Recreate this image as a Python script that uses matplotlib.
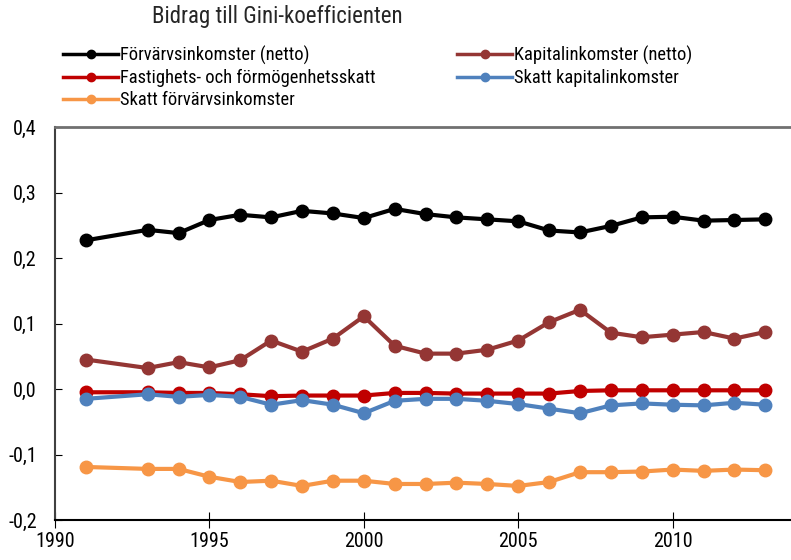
import matplotlib
matplotlib.use("Agg")
import matplotlib.pyplot as plt
from matplotlib.lines import Line2D

plt.rcParams['font.family'] = ['Roboto Condensed', 'DejaVu Sans']

years = [1991, 1993, 1994, 1995, 1996, 1997, 1998, 1999, 2000, 2001, 2002,
         2003, 2004, 2005, 2006, 2007, 2008, 2009, 2010, 2011, 2012, 2013]

forvarv = [0.227, 0.243, 0.238, 0.258, 0.266, 0.262, 0.272, 0.268, 0.261, 0.275, 0.267,
           0.262, 0.259, 0.256, 0.242, 0.239, 0.249, 0.262, 0.263, 0.257, 0.258, 0.259]
kapital = [0.045, 0.032, 0.041, 0.033, 0.044, 0.074, 0.057, 0.077, 0.111, 0.066, 0.054,
           0.054, 0.060, 0.074, 0.102, 0.121, 0.086, 0.079, 0.083, 0.087, 0.077, 0.087]
fastighet = [-0.005, -0.005, -0.006, -0.006, -0.008, -0.011, -0.010, -0.010, -0.010, -0.006, -0.006,
             -0.007, -0.007, -0.007, -0.007, -0.003, -0.002, -0.002, -0.002, -0.002, -0.002, -0.002]
skatt_kap = [-0.015, -0.008, -0.012, -0.009, -0.012, -0.024, -0.017, -0.024, -0.037, -0.018, -0.015,
             -0.015, -0.018, -0.023, -0.030, -0.037, -0.025, -0.022, -0.024, -0.025, -0.021, -0.024]
skatt_forv = [-0.119, -0.122, -0.122, -0.134, -0.142, -0.140, -0.148, -0.140, -0.140, -0.145, -0.145,
              -0.143, -0.145, -0.148, -0.142, -0.127, -0.127, -0.126, -0.123, -0.125, -0.123, -0.124]

labels = ["Förvärvsinkomster (netto)", "Kapitalinkomster (netto)",
          "Fastighets- och förmögenhetsskatt", "Skatt kapitalinkomster",
          "Skatt förvärvsinkomster"]
colors = ["#000000", "#943634", "#C00000", "#4F81BD", "#F79646"]
series = [forvarv, kapital, fastighet, skatt_kap, skatt_forv]

yticks = [-0.2, -0.1, 0.0, 0.1, 0.2, 0.3, 0.4]
ytick_labels = ["-0,2", "-0,1", "0,0", "0,1", "0,2", "0,3", "0,4"]
xticks = [1990, 1995, 2000, 2005, 2010]

fig = plt.figure(figsize=(7.91, 5.6), dpi=100)
ax = fig.add_axes([55/791, 40/560, 735/791, 393/560])

for vals, col, lab in zip(series, colors, labels):
    ax.plot(years, vals, color=col, lw=3, marker='o', markersize=9,
            label=lab, solid_capstyle='round')

ax.set_xlim(1990, 2013.8)
ax.set_ylim(-0.2, 0.4)
ax.set_yticks(yticks)
ax.set_yticklabels(ytick_labels)
ax.set_xticks(xticks)
ax.tick_params(axis='y', direction='in', length=5, labelsize=14.5, pad=13)
ax.tick_params(axis='x', direction='inout', length=11, labelsize=14.5, pad=3)
ax.spines['right'].set_visible(False)
ax.spines['top'].set_color('#707070')
ax.spines['top'].set_linewidth(2)
ax.spines['left'].set_color('#404040')
ax.spines['left'].set_linewidth(1.5)
ax.spines['bottom'].set_linewidth(1.5)

fig.text(152/791, 1 - 23/560, "Bidrag till Gini-koefficienten", fontsize=16.5,
         ha='left', va='baseline', color='#262626')

def proxy(i):
    return Line2D([], [], color=colors[i], lw=2.5, marker='o', markersize=6)

common = dict(loc='upper left', frameon=False, fontsize=13.3, handlelength=3.0,
              handletextpad=0.1, labelspacing=0.22, borderpad=0, borderaxespad=0)
leg1 = fig.legend([proxy(i) for i in [0, 2, 4]], [labels[i] for i in [0, 2, 4]],
                  bbox_to_anchor=(63/791, 1 - 46/560), **common)
leg2 = fig.legend([proxy(i) for i in [1, 3]], [labels[i] for i in [1, 3]],
                  bbox_to_anchor=(457/791, 1 - 46/560), **common)

fig.savefig("out.png", dpi=100)
